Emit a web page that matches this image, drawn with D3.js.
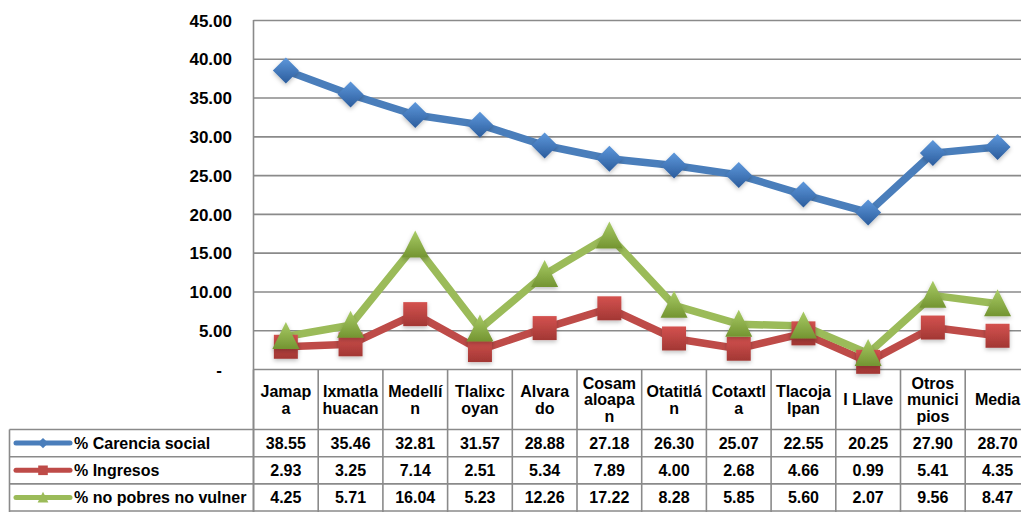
<!DOCTYPE html>
<html><head><meta charset="utf-8">
<script src="https://cdn.jsdelivr.net/npm/d3@7"></script>
<style>
html,body{margin:0;padding:0;background:#fff;overflow:hidden}
text{font-family:"Liberation Sans",Arial,sans-serif;font-weight:bold;fill:#000}
</style></head>
<body>
<svg id="c" width="1021" height="512"></svg>
<script>
const categories = ["Jamapa","Ixmatlahuacan","Medellín","Tlalixcoyan","Alvarado","Cosamaloapan","Otatitlán","Cotaxtla","Tlacojalpan","I Llave","Otros municipios","Media"];
const headerLines = [["Jamap","a"],["Ixmatla","huacan"],["Medellí","n"],["Tlalixc","oyan"],["Alvara","do"],["Cosam","aloapa","n"],["Otatitlá","n"],["Cotaxtl","a"],["Tlacoja","lpan"],["I Llave"],["Otros","munici","pios"],["Media"]];
const seriesNames = ["% Carencia social","% Ingresos","% no pobres no vulner"];
const carencia = [38.55,35.46,32.81,31.57,28.88,27.18,26.30,25.07,22.55,20.25,27.90,28.70];
const ingresos = [2.93,3.25,7.14,2.51,5.34,7.89,4.00,2.68,4.66,0.99,5.41,4.35];
const noPobres = [4.25,5.71,16.04,5.23,12.26,17.22,8.28,5.85,5.60,2.07,9.56,8.47];
const yTicks = [0,5,10,15,20,25,30,35,40,45];

const series = [
  {name: seriesNames[0], values: carencia, line:"#4a7ebb", top:"#5e98dc", bot:"#2b5c9c", shape:"diamond"},
  {name: seriesNames[1], values: ingresos, line:"#be4b48", top:"#d4524f", bot:"#a23734", shape:"square"},
  {name: seriesNames[2], values: noPobres, line:"#9bbb59", top:"#a9cc66", bot:"#739431", shape:"triangle"}
];

const svg = d3.select("#c");
const plotLeft = 253.5, colW = 64.7;
const x = d3.scaleBand().domain(categories).range([plotLeft, plotLeft + colW*categories.length]);
const y = d3.scaleLinear().domain([0,45]).range([369.5,20.5]);
const gridColor = "#8a8a8a";

const defs = svg.append("defs");
series.forEach((s,i)=>{
  const g = defs.append("linearGradient").attr("id","g"+i).attr("x1",0).attr("y1",0).attr("x2",0).attr("y2",1);
  g.append("stop").attr("offset","0%").attr("stop-color",s.top);
  g.append("stop").attr("offset","100%").attr("stop-color",s.bot);
});
const f = defs.append("filter").attr("id","sh").attr("x","-50%").attr("y","-50%").attr("width","200%").attr("height","200%");
f.append("feDropShadow").attr("dx",0).attr("dy",2).attr("stdDeviation",2).attr("flood-color","#000").attr("flood-opacity",0.25);

// gridlines
svg.append("g").selectAll("line").data(yTicks.filter(d=>d>0)).join("line")
  .attr("x1",plotLeft).attr("x2",1030).attr("y1",d=>y(d)).attr("y2",d=>y(d))
  .attr("stroke",gridColor).attr("stroke-width",1.6);

// y axis labels
svg.append("g").selectAll("text").data(yTicks).join("text")
  .attr("x",d=> d===0 ? 219 : 232).attr("y",d=>y(d)).attr("dy","0.36em")
  .attr("text-anchor",d=> d===0 ? "middle" : "end")
  .style("font-size","17px")
  .text(d=> d===0 ? "-" : d.toFixed(2));

// table geometry
const tableLeft = 9.5, headerBottom = 429.5, rowH = 27.2;
const rowTops = [headerBottom, headerBottom+rowH, headerBottom+2*rowH];
const tableBottom = headerBottom + 3*rowH;
const tg = svg.append("g");
tg.selectAll("line.h").data([headerBottom, headerBottom+rowH, headerBottom+2*rowH, Math.min(tableBottom,511)]).join("line")
  .attr("x1",tableLeft).attr("x2",1030).attr("y1",d=>d).attr("y2",d=>d)
  .attr("stroke",gridColor).attr("stroke-width",1.6);
tg.selectAll("line.v").data(categories.map(c=>x(c)).concat([x(categories[categories.length-1])+x.bandwidth()])).join("line")
  .attr("x1",d=>d).attr("x2",d=>d).attr("y1",369.5).attr("y2",512)
  .attr("stroke",gridColor).attr("stroke-width",1.6);
tg.append("line").attr("x1",tableLeft).attr("x2",tableLeft).attr("y1",headerBottom).attr("y2",512).attr("stroke",gridColor).attr("stroke-width",1.6);
svg.append("line").attr("x1",plotLeft).attr("x2",plotLeft).attr("y1",20).attr("y2",512).attr("stroke",gridColor).attr("stroke-width",1.6);
svg.append("line").attr("x1",plotLeft).attr("x2",1030).attr("y1",y(0)).attr("y2",y(0)).attr("stroke",gridColor).attr("stroke-width",1.6);

// header labels
const lh = 16.5;
const headerMid = (369.5+headerBottom)/2;
categories.forEach((c,i)=>{
  const lines = headerLines[i];
  const t = tg.append("text").attr("text-anchor","middle").style("font-size","16px");
  lines.forEach((l,j)=>{
    t.append("tspan").attr("x",x(c)+x.bandwidth()/2)
     .attr("y",headerMid + (j-(lines.length-1)/2)*lh).attr("dy","0.36em").text(l);
  });
});

// table values
series.forEach((s,si)=>{
  const cy = rowTops[si] + rowH/2;
  tg.append("g").selectAll("text").data(s.values).join("text")
    .attr("x",(d,i)=>x(categories[i])+x.bandwidth()/2).attr("y",cy).attr("dy","0.36em")
    .attr("text-anchor","middle").style("font-size","16px")
    .text(d=>d.toFixed(2));
  tg.append("line").attr("x1",16).attr("x2",70).attr("y1",cy).attr("y2",cy)
    .attr("stroke",s.line).attr("stroke-width",5).attr("stroke-linecap","round");
  tg.append("path").attr("transform",`translate(43,${cy})`).attr("d",markerPath(s.shape,0.4)).attr("fill",s.line);
  tg.append("text").attr("x",74).attr("y",cy).attr("dy","0.36em").style("font-size","16px").text(s.name);
});

function markerPath(shape,k){
  if(shape==="diamond"){const r=13*k;return `M0,${-r}L${r},0L0,${r}L${-r},0Z`;}
  if(shape==="square"){const r=12*k;return `M${-r},${-r}H${r}V${r}H${-r}Z`;}
  const w=13.5*k,h=12.5*k;return `M0,${-h-2*k}L${w},${h}L${-w},${h}Z`;
}

const lineGen = d3.line().x((d,i)=>x(categories[i])+x.bandwidth()/2).y(d=>y(d));
const plot = svg.append("g");
series.forEach((s,si)=>{
  plot.append("path").datum(s.values).attr("d",lineGen)
    .attr("fill","none").attr("stroke",s.line).attr("stroke-width",7.5).attr("stroke-linejoin","round");
});
series.forEach((s,si)=>{
  plot.append("g").selectAll("path").data(s.values).join("path")
    .attr("transform",(d,i)=>`translate(${x(categories[i])+x.bandwidth()/2},${y(d)})`)
    .attr("d",markerPath(s.shape,1)).attr("fill",`url(#g${si})`).attr("filter","url(#sh)");
});
</script>
</body></html>
